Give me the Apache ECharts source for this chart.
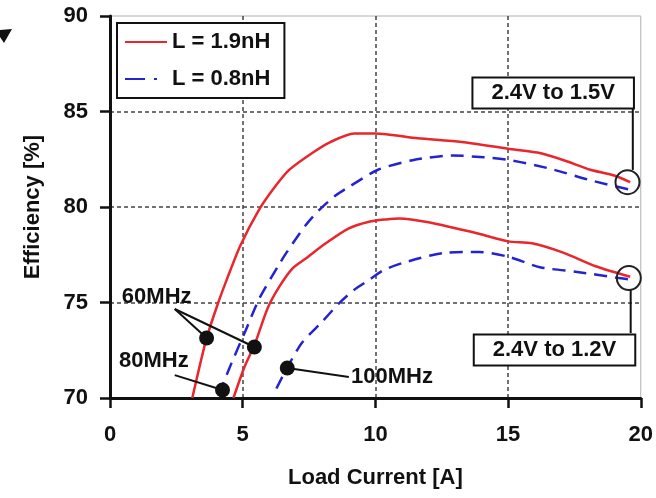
<!DOCTYPE html>
<html>
<head>
<meta charset="utf-8">
<script src="https://cdn.jsdelivr.net/npm/echarts@6/dist/echarts.min.js"></script>
<style>
  html, body { margin: 0; padding: 0; background: #fff; }
  #chart { width: 656px; height: 498px; }
</style>
</head>
<body>
<div id="chart"></div>
<script>
// efficiency curves, [load current A, efficiency %]
let red15 = [[3.1, 70], [3.4, 71.8], [3.64, 73.14], [4.08, 75], [4.4, 76.2], [4.9, 77.95], [5.57, 79.75], [6.13, 80.9], [6.75, 81.94], [7.62, 82.83], [8.3, 83.4], [9.2, 83.85], [10, 83.85], [11.6, 83.6], [13.25, 83.4], [15, 83.05], [16.1, 82.85], [17.1, 82.45], [18.1, 81.95], [19, 81.65], [19.6, 81.3]]
let blue15 = [[4.1, 70.2], [4.57, 71.8], [5.1, 73.5], [5.63, 75.22], [6.32, 76.87], [6.63, 77.57], [7.38, 79.06], [7.88, 79.84], [8.5, 80.6], [9.0, 81.05], [10.1, 81.95], [11.4, 82.45], [12.9, 82.7], [14.1, 82.6], [15.1, 82.45], [16.6, 82.0], [18.1, 81.4], [19.6, 80.9]]
let red12 = [[4.65, 70], [5.07, 71.64], [5.45, 72.8], [5.94, 74.7], [6.38, 75.83], [6.88, 76.79], [7.38, 77.31], [8.13, 78.1], [9.0, 78.88], [9.76, 79.23], [10.4, 79.35], [10.9, 79.4], [12.0, 79.2], [13.9, 78.6], [15, 78.2], [15.9, 78.1], [17.1, 77.6], [18.3, 76.9], [19.6, 76.35]]
let blue12 = [[6.27, 70.5], [6.68, 71.6], [7.24, 72.9], [8.0, 74.0], [8.63, 74.96], [9.19, 75.65], [9.76, 76.18], [10.32, 76.7], [11.1, 77.1], [12.6, 77.6], [13.9, 77.65], [15, 77.4], [16.2, 76.85], [17.6, 76.6], [19.1, 76.3], [19.6, 76.2]]

let legendNames = ['L = 1.9nH', 'L = 0.8nH']

// switching frequency markers
let freqDots = [[3.64, 73.14], [5.44, 72.67], [4.24, 70.42], [6.68, 71.57]]
let freqNames = ['60MHz', '80MHz', '100MHz']
let freqLabelPos = [[1.76, 75.3], [1.65, 71.95], [9.08, 71.1]]
let freqLeaders = [
  [[2.44, 74.66], [3.64, 73.14]],
  [[2.44, 74.66], [5.44, 72.67]],
  [[2.44, 71.2], [4.24, 70.42]],
  [[6.68, 71.57], [9.0, 71.1]]
]

// conversion ratio callouts
let boxTexts = ['2.4V to 1.5V', '2.4V to 1.2V']
let boxCenters = [[16.7, 85.97], [16.75, 72.51]]
let rings = [[19.5, 81.3], [19.55, 76.28]]
let ringLinks = [
  [[19.7, 85.13], [19.7, 81.94]],
  [[19.62, 75.65], [19.62, 73.4]]
]

const FONT = '"Liberation Sans", Arial, sans-serif'
const RED = '#e8262b'
const BLUE = '#2323cf'

let chart = echarts.init(document.getElementById('chart'))

let axisCommon = {
  type: 'value',
  interval: 5,
  axisLine: { show: true, onZero: false, lineStyle: { color: '#111', width: 3 } },
  axisTick: { show: true, inside: false, length: 10, lineStyle: { color: '#111', width: 2.5 } },
  splitLine: {
    show: true,
    showMinLine: false,
    showMaxLine: false,
    lineStyle: { color: '#444', width: 1.5, type: [4, 3] }
  },
  nameLocation: 'middle',
  nameTextStyle: { fontFamily: FONT, fontWeight: 'bold', fontSize: 22, color: '#111' }
}

let lineSeries = (name, data, color, dash) => ({
  name: name,
  type: 'line',
  data: data,
  showSymbol: false,
  symbol: 'none',
  smooth: 0.25,
  lineStyle: { color: color, width: 2.5, type: dash || 'solid' },
  itemStyle: { color: color }
})

let option = {
  animation: false,
  backgroundColor: '#fff',
  grid: {
    left: 110,
    right: 13,
    top: 16,
    bottom: 100,
    show: true,
    borderColor: '#b0b0b0',
    borderWidth: 1,
    backgroundColor: 'transparent'
  },
  xAxis: Object.assign({}, axisCommon, {
    min: 0,
    max: 20,
    name: 'Load Current [A]',
    nameGap: 69,
    axisLabel: { margin: 26, fontFamily: FONT, fontWeight: 'bold', fontSize: 22, color: '#111' }
  }),
  yAxis: Object.assign({}, axisCommon, {
    min: 70,
    max: 90,
    name: 'Efficiency [%]',
    nameGap: 66,
    axisLabel: { margin: 22, fontFamily: FONT, fontWeight: 'bold', fontSize: 22, color: '#111' }
  }),
  legend: {
    data: [
      { name: legendNames[0] },
      { name: legendNames[1], lineStyle: { type: [20, 9, 3, 10] } }
    ],
    orient: 'vertical',
    left: 117,
    top: 23,
    padding: [8, 14, 8, 7],
    itemGap: 15,
    itemWidth: 42,
    itemHeight: 14,
    itemStyle: { color: 'rgba(0,0,0,0)', borderWidth: 0, opacity: 0 },
    borderColor: '#111',
    borderWidth: 2,
    backgroundColor: '#fff',
    textStyle: { fontFamily: FONT, fontWeight: 'bold', fontSize: 22, color: '#111' }
  },
  series: [
    lineSeries(legendNames[0], red15, RED),
    lineSeries(legendNames[1], blue15, BLUE, [13, 8]),
    lineSeries(legendNames[0], red12, RED),
    lineSeries(legendNames[1], blue12, BLUE, [13, 8]),
    {
      name: 'freq', type: 'scatter', data: freqDots, symbolSize: 15, z: 5,
      itemStyle: { color: '#111', opacity: 1 }
    },
    {
      name: 'rings', type: 'scatter', data: rings, symbolSize: 24, z: 5,
      itemStyle: { color: 'rgba(0,0,0,0)', borderColor: '#222', borderWidth: 2, opacity: 1 }
    }
  ]
}

chart.setOption(option)

// annotations placed through the axes
let toPx = p => chart.convertToPixel({ gridIndex: 0 }, p)
let graphics = []

freqLeaders.concat(ringLinks).forEach(seg => {
  graphics.push({
    type: 'polyline', z: 10,
    shape: { points: seg.map(toPx) },
    style: { stroke: '#111', lineWidth: 2, fill: null }
  })
})

freqNames.forEach((t, i) => {
  let p = toPx(freqLabelPos[i])
  graphics.push({
    type: 'text', z: 11, x: p[0], y: p[1],
    style: {
      text: t, fill: '#111', font: 'bold 22px ' + FONT,
      align: i === 2 ? 'left' : 'center', verticalAlign: 'middle'
    }
  })
})

boxTexts.forEach((t, i) => {
  let p = toPx(boxCenters[i])
  graphics.push({
    type: 'text', z: 11, x: p[0], y: p[1],
    style: {
      text: t, fill: '#111', font: 'bold 22px ' + FONT,
      align: 'center', verticalAlign: 'middle',
      backgroundColor: '#fff', borderColor: '#111', borderWidth: 2,
      padding: [4, 18, 3, 18]
    }
  })
})

// fragment of a neighbouring figure's arrow at the top left
graphics.push({
  type: 'polygon', z: 10,
  shape: { points: [[0, 30], [12, 29], [4, 43], [0, 37]] },
  style: { fill: '#111' }
})

chart.setOption({ graphic: graphics })
</script>
</body>
</html>
